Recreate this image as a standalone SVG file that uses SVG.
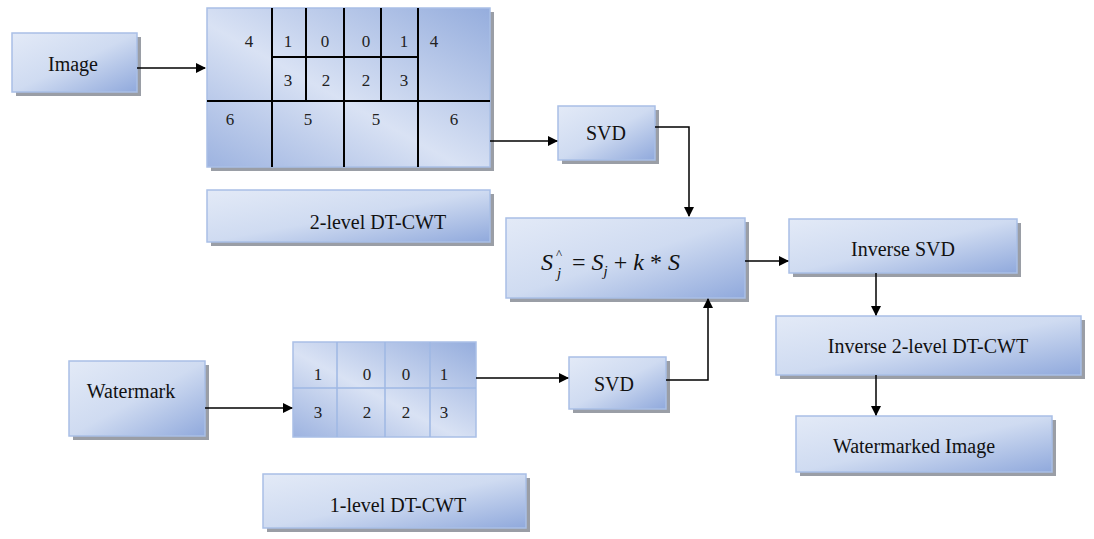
<svg xmlns="http://www.w3.org/2000/svg" width="1094" height="539" viewBox="0 0 1094 539">
<defs>
<linearGradient id="g" x1="0" y1="0" x2="1" y2="1">
<stop offset="0" stop-color="#e3eaf7"/><stop offset="0.5" stop-color="#cfdbf1"/><stop offset="1" stop-color="#90a9dc"/>
</linearGradient>
<linearGradient id="g2" x1="0" y1="1" x2="1" y2="0">
<stop offset="0" stop-color="#9db3e0"/><stop offset="0.45" stop-color="#d9e2f4"/><stop offset="1" stop-color="#95addd"/>
</linearGradient>
<marker id="a" markerWidth="10" markerHeight="10" refX="9" refY="5" orient="auto" markerUnits="userSpaceOnUse">
<path d="M0,0 L10,5 L0,10 z" fill="#000"/>
</marker>
</defs>
<style>
.b{fill:url(#g);stroke:#a9bfe6;stroke-width:1.5}
.s{fill:#9a9ea6}
.t{font-family:"Liberation Serif",serif;font-size:20px;fill:#111;text-anchor:middle}
.n{font-family:"Liberation Serif",serif;font-size:17px;fill:#222;text-anchor:middle}
.k{stroke:#000;stroke-width:2;fill:none}
.l{stroke:#9fb8e4;stroke-width:1.5;fill:none}
.c{stroke:#000;stroke-width:1.5;fill:none}
</style>
<rect width="1094" height="539" fill="#fff"/>
<g id="image"><rect class="s" x="16" y="37" width="125" height="59"/><rect class="b" x="12" y="33" width="125" height="59"/><text class="t" x="73" y="71">Image</text></g>
<g id="dtcwt2grid"><rect class="s" x="211" y="12" width="283" height="159"/><rect class="b" x="207" y="8" width="283" height="159" style="fill:url(#g2)"/>
<path class="k" d="M207,101H490M272,8V167M306,8V101M344,8V167M381,8V101M418,8V167M272,57H418"/>
<g class="n"><text x="249" y="47">4</text><text x="288" y="47">1</text><text x="325" y="47">0</text><text x="366" y="47">0</text><text x="404" y="47">1</text><text x="434" y="47">4</text>
<text x="288" y="86">3</text><text x="326" y="86">2</text><text x="366" y="86">2</text><text x="404" y="86">3</text>
<text x="230" y="125">6</text><text x="308" y="125">5</text><text x="376" y="125">5</text><text x="454" y="125">6</text></g></g>
<g id="svd1"><rect class="s" x="562" y="110" width="97" height="54"/><rect class="b" x="558" y="106" width="97" height="54"/><text class="t" x="606" y="140">SVD</text></g>
<g id="label2"><rect class="s" x="211" y="194" width="283" height="52"/><rect class="b" x="207" y="190" width="283" height="52"/><text class="t" x="378" y="229">2-level DT-CWT</text></g>
<g id="formula"><rect class="s" x="510" y="222" width="239" height="80"/><rect class="b" x="506" y="218" width="239" height="80"/>
<text font-family="Liberation Serif,serif" font-style="italic" font-size="24" fill="#111"><tspan x="541" y="270">S</tspan><tspan x="557" y="278" font-size="15">j</tspan><tspan x="556" y="258" font-size="13" font-style="normal">^</tspan><tspan x="572" y="270" font-style="normal">= </tspan><tspan>S</tspan><tspan dy="6" font-size="15">j</tspan><tspan dy="-6" font-style="normal"> + </tspan><tspan>k</tspan><tspan font-style="normal"> * </tspan><tspan>S</tspan></text></g>
<g id="invsvd"><rect class="s" x="793" y="223" width="228" height="54"/><rect class="b" x="789" y="219" width="228" height="54"/><text class="t" x="903" y="256">Inverse SVD</text></g>
<g id="inv2"><rect class="s" x="780" y="320" width="305" height="59"/><rect class="b" x="776" y="316" width="305" height="59"/><text class="t" x="928" y="353">Inverse 2-level DT-CWT</text></g>
<g id="wmimg"><rect class="s" x="800" y="420" width="256" height="56"/><rect class="b" x="796" y="416" width="256" height="56"/><text class="t" x="914" y="453">Watermarked Image</text></g>
<g id="watermark"><rect class="s" x="73" y="365" width="136" height="75"/><rect class="b" x="69" y="361" width="136" height="75"/><text class="t" x="131" y="398" font-size="16">Watermark</text></g>
<g id="wmgrid"><rect class="b" x="293" y="342" width="183" height="95" style="fill:url(#g2)"/>
<path class="l" d="M293,388H476M337,342V437M385,342V437M430,342V437"/>
<g class="n"><text x="318" y="380">1</text><text x="367" y="380">0</text><text x="406" y="380">0</text><text x="444" y="380">1</text>
<text x="318" y="418">3</text><text x="367" y="418">2</text><text x="406" y="418">2</text><text x="444" y="418">3</text></g></g>
<g id="svd2"><rect class="s" x="573" y="361" width="97" height="52"/><rect class="b" x="569" y="357" width="97" height="52"/><text class="t" x="614" y="391">SVD</text></g>
<g id="label1"><rect class="s" x="267" y="478" width="263" height="54"/><rect class="b" x="263" y="474" width="263" height="54"/><text class="t" x="398" y="512">1-level DT-CWT</text></g>
<g id="connectors">
<path class="c" marker-end="url(#a)" d="M137,68H205"/>
<path class="c" marker-end="url(#a)" d="M490,141H557"/>
<path class="c" marker-end="url(#a)" d="M655,127H689V216"/>
<path class="c" marker-end="url(#a)" d="M205,408H292"/>
<path class="c" marker-end="url(#a)" d="M476,378H568"/>
<path class="c" marker-end="url(#a)" d="M666,380H708V299"/>
<path class="c" marker-end="url(#a)" d="M745,261H788"/>
<path class="c" marker-end="url(#a)" d="M876,273V315"/>
<path class="c" marker-end="url(#a)" d="M876,375V415"/>
</g>
</svg>
